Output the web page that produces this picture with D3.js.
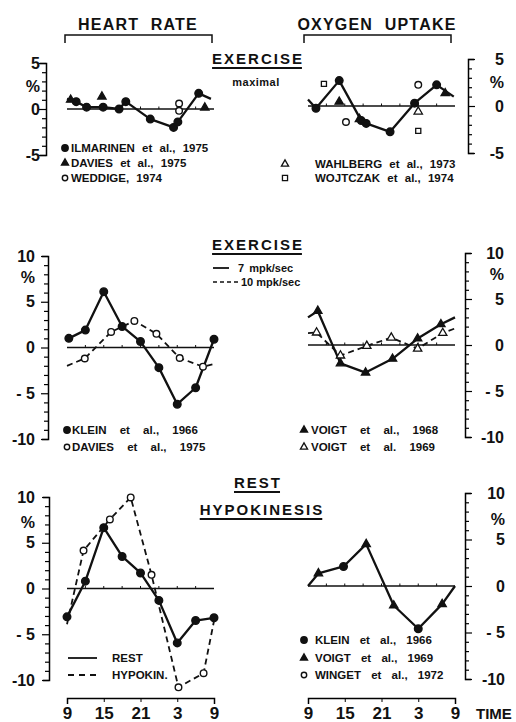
<!DOCTYPE html>
<html>
<head>
<meta charset="utf-8">
<script src="https://cdn.jsdelivr.net/npm/d3@7"></script>
<style>
body { margin: 0; background: #fff; }
text { font-family: "Liberation Sans", Arial, sans-serif; font-weight: bold; fill: #111; }
</style>
</head>
<body>
<div id="chart"></div>
<script>
// clock hours from 9 in the morning to 9 next morning (27 = 3, 33 = 9)
var timeTicks = [9, 15, 21, 27, 33];
var timeLabels = ["9", "15", "21", "3", "9"];

// y tick labels
var smallTicks = [5, 0, -5];
var smallTickLabels = ["5", "0", "-5"];
var bigTicks = [10, 5, 0, -5, -10];
var bigTickLabels = ["10", "5", "0", "- 5", "-10"];

// --- heart rate, maximal exercise (top left)
var hrIlmHours = [10.5, 12.2, 14.9, 17.5, 18.6, 22.6, 26.4, 27.1, 30.5];
var hrIlmValues = [0.8, 0.2, 0.2, 0.0, 0.8, -1.1, -2.0, -1.4, 1.7];
var hrIlmEnds = [[9, 1.1], [32.5, 1.1]];
var hrDavHours = [9.6, 14.7, 31.5];
var hrDavValues = [1.0, 1.35, 0.15];
var hrWedHours = [27.3, 27.3];
var hrWedValues = [0.6, -0.2];

// --- oxygen uptake, maximal exercise (top right)
var o2IlmHours = [10.3, 14.1, 17.7, 18.5, 22.4, 26.4, 30.0];
var o2IlmValues = [-0.25, 2.7, -1.55, -1.85, -2.75, 0.3, 2.25];
var o2IlmEnds = [[9, 0.7], [32.8, 1.0]];
var o2DavHours = [14.1, 17.4, 31.4];
var o2DavValues = [0.45, -1.4, 1.35];
var o2WedHours = [15.2, 27.0];
var o2WedValues = [-1.7, 2.25];
var o2WahHours = [27.0];
var o2WahValues = [-0.6];
var o2WojHours = [11.6, 27.0];
var o2WojValues = [2.35, -2.65];

// --- exercise 7 / 10 mpk/sec (middle left)
var exKleinHours = [9.3, 12, 15, 18, 21, 24, 27, 30, 33];
var exKleinValues = [1.0, 1.9, 6.1, 2.3, 0.65, -2.2, -6.2, -4.4, 0.9];
var exDavHours = [11.9, 16.2, 20.0, 23.6, 27.4, 31.2];
var exDavValues = [-1.2, 1.7, 2.9, 1.5, -1.15, -2.1];
var exDavEnds = [[9, -2.0], [33, -1.8]];

// --- exercise (middle right)
var exV68Hours = [10.6, 14.3, 18.4, 22.8, 26.9, 30.7];
var exV68Values = [3.7, -2.0, -3.0, -1.5, 0.7, 2.25];
var exV68Ends = [[9, 3.0], [33, 3.0]];
var exV69Hours = [10.4, 14.3, 18.6, 22.6, 26.9, 31.0];
var exV69Values = [1.35, -1.15, -0.1, 0.8, -0.4, 1.3];
var exV69Ends = [[9, 1.3], [33, 1.8]];

// --- rest vs hypokinesis (bottom left)
var restHours = [9, 12, 15, 18, 21, 24, 27, 30, 33];
var restValues = [-3.1, 0.8, 6.65, 3.5, 1.7, -1.3, -5.95, -3.5, -3.2];
var hypoHours = [11.7, 16, 19.4, 22.8, 27.2, 31.3];
var hypoValues = [4.15, 7.55, 9.95, 1.5, -10.8, -9.25];
var hypoEnds = [[9, -3.9], [33, -3.55]];

// --- rest (bottom right)
var rKleinHours = [14.8, 27];
var rKleinValues = [2.1, -4.6];
var rVoigtHours = [10.7, 18.5, 23, 30.9];
var rVoigtValues = [1.35, 4.5, -2.1, -1.95];
var rEnds = [[9, 0], [33, 0]];

var svg = d3.select("#chart").append("svg")
  .attr("width", 516)
  .attr("height", 722);

function pairs(hours, values) {
  return hours.map(function (h, i) { return [h, values[i]]; });
}

// draw one marker shape at pixel position
function shape(g, px, py, kind, small) {
  if (kind == "dot" || kind == "ring") {
    g.append("circle")
      .attr("cx", px).attr("cy", py)
      .attr("r", (kind == "dot" ? 3.8 : 3.3) - (small ? 0.6 : 0))
      .attr("fill", kind == "dot" ? "#111" : "#fff")
      .attr("stroke", "#111")
      .attr("stroke-width", 1.4);
  } else {
    var sym = d3.symbol()
      .type(kind == "sq" ? d3.symbolSquare : d3.symbolTriangle)
      .size(kind == "sq" ? 26 : (small ? 22 : 30));
    g.append("path")
      .attr("transform", "translate(" + px + "," + py + ")")
      .attr("d", sym)
      .attr("fill", kind == "tri" ? "#111" : "#fff")
      .attr("stroke", "#111")
      .attr("stroke-width", 1.3);
  }
}

function marks(x, y, hours, values, kind) {
  var g = svg.append("g");
  pairs(hours, values).forEach(function (d) {
    shape(g, x(d[0]), y(d[1]), kind, false);
  });
}

function trace(x, y, pts, dashed) {
  pts = pts.slice().sort(function (a, b) { return a[0] - b[0]; });
  svg.append("path")
    .datum(pts)
    .attr("fill", "none")
    .attr("stroke", "#111")
    .attr("stroke-width", dashed ? 1.8 : 2.3)
    .attr("stroke-dasharray", dashed ? "6,4" : null)
    .attr("stroke-linejoin", "round")
    .attr("d", d3.line()
      .x(function (d) { return x(d[0]); })
      .y(function (d) { return y(d[1]); })
    );
}

function zeroLine(x, y) {
  svg.append("line")
    .attr("x1", x(9)).attr("x2", x(33))
    .attr("y1", y(0)).attr("y2", y(0))
    .attr("stroke", "#111")
    .attr("stroke-width", 1.3);
  // little marks every 3 hours along the zero line
  svg.append("g").selectAll("line")
    .data(d3.range(12, 33, 3))
    .enter().append("line")
    .attr("x1", function (d) { return x(d); })
    .attr("x2", function (d) { return x(d); })
    .attr("y1", y(0)).attr("y2", y(0) - 2.5)
    .attr("stroke", "#111")
    .attr("stroke-width", 1);
}

function yAxis(y, side, ax, lim, ticks, labels, labelEnd, pct) {
  var axis = (side == "left" ? d3.axisLeft(y) : d3.axisRight(y))
    .tickValues(d3.range(-lim, lim + 1))
    .tickSizeInner(4)
    .tickSizeOuter(6)
    .tickFormat(function (d) {
      var i = ticks.indexOf(d);
      return i < 0 ? "" : labels[i];
    });
  var g = svg.append("g")
    .attr("transform", "translate(" + ax + ",0)")
    .call(axis);
  g.attr("font-size", 16).attr("font-family", null);
  g.select(".domain").attr("stroke-width", 1.5);
  g.selectAll(".tick line")
    .attr("stroke-width", 1.2)
    .attr("x2", function (d) {
      var len = d % 5 == 0 ? 7 : 4;
      return side == "left" ? -len : len;
    });
  g.selectAll(".tick text")
    .attr("text-anchor", "end")
    .attr("x", labelEnd - ax);
  svg.append("text")
    .attr("x", labelEnd)
    .attr("y", y(pct))
    .attr("dy", "0.35em")
    .attr("text-anchor", "end")
    .attr("font-size", 16)
    .text("%");
}

function timeAxis(x, yPos) {
  var g = svg.append("g")
    .attr("transform", "translate(0," + yPos + ")")
    .call(d3.axisBottom(x)
      .tickValues(timeTicks)
      .tickSizeInner(4)
      .tickSizeOuter(6)
      .tickPadding(5)
      .tickFormat(function (d, i) { return timeLabels[i]; }));
  g.attr("font-size", 17).attr("font-family", null);
  g.select(".domain").attr("stroke-width", 1.5);
}

function legend(x0, tx, rows, items, ws) {
  var g = svg.append("g");
  items.forEach(function (it, i) {
    if (it[0] == "solid" || it[0] == "dash") {
      g.append("line")
        .attr("x1", x0).attr("x2", x0 + 29)
        .attr("y1", rows[i]).attr("y2", rows[i])
        .attr("stroke", "#111")
        .attr("stroke-width", 1.8)
        .attr("stroke-dasharray", it[0] == "dash" ? "6,5" : null);
    } else {
      shape(g, x0, rows[i], it[0], true);
    }
    g.append("text")
      .attr("x", tx)
      .attr("y", rows[i])
      .attr("dy", "0.36em")
      .attr("font-size", 11.5)
      .attr("word-spacing", ws)
      .text(it[1]);
  });
}

function title(txt, cx, base, size, ls, underline) {
  var t = svg.append("text")
    .attr("x", cx).attr("y", base)
    .attr("text-anchor", "middle")
    .attr("font-size", size)
    .attr("letter-spacing", ls)
    .attr("word-spacing", 6)
    .text(txt);
  if (underline) {
    var b = t.node().getBBox();
    svg.append("line")
      .attr("x1", b.x).attr("x2", b.x + b.width - ls)
      .attr("y1", base + 4).attr("y2", base + 4)
      .attr("stroke", "#111").attr("stroke-width", 2);
  }
}

function bracket(x1, x2, yTop) {
  svg.append("path")
    .attr("d", "M" + x1 + "," + (yTop + 8) + "V" + yTop + "H" + x2 + "V" + (yTop + 8))
    .attr("fill", "none")
    .attr("stroke", "#111")
    .attr("stroke-width", 1.5);
}

// scales
var xL = d3.scaleLinear().domain([9, 33]).range([67, 214]);
var xR = d3.scaleLinear().domain([9, 33]).range([308, 455]);
var yTL = d3.scaleLinear().domain([-5, 5]).range([155, 63]);
var yTR = d3.scaleLinear().domain([-5, 5]).range([153, 59]);
var yML = d3.scaleLinear().domain([-10, 10]).range([439, 256]);
var yMR = d3.scaleLinear().domain([-10, 10]).range([437, 253]);
var yBL = d3.scaleLinear().domain([-10, 10]).range([680, 497]);
var yBR = d3.scaleLinear().domain([-10, 10]).range([679, 493]);

// titles
title("HEART RATE", 138, 30, 16, 1.2, false);
bracket(65, 212, 35);
title("OXYGEN UPTAKE", 377, 30, 16, 1.2, false);
bracket(304, 451, 35);
title("EXERCISE", 258, 64, 15, 2, true);
svg.append("text").attr("x", 256).attr("y", 86).attr("text-anchor", "middle")
  .attr("font-size", 11).attr("letter-spacing", 0.5).text("maximal");

// top left
yAxis(yTL, "left", 46, 5, smallTicks, smallTickLabels, 40, 2.5);
zeroLine(xL, yTL);
trace(xL, yTL, [hrIlmEnds[0]].concat(pairs(hrIlmHours, hrIlmValues), [hrIlmEnds[1]]), false);
marks(xL, yTL, hrIlmHours, hrIlmValues, "dot");
marks(xL, yTL, hrDavHours, hrDavValues, "tri");
marks(xL, yTL, hrWedHours, hrWedValues, "ring");
legend(65, 71, [148, 163, 178], [
  ["dot", "ILMARINEN et al., 1975"],
  ["tri", "DAVIES et al., 1975"],
  ["ring", "WEDDIGE, 1974"]
], 4);

// top right
yAxis(yTR, "right", 468, 5, smallTicks, smallTickLabels, 504, 2.5);
zeroLine(xR, yTR);
trace(xR, yTR, [o2IlmEnds[0]].concat(pairs(o2IlmHours, o2IlmValues), [o2IlmEnds[1]]), false);
marks(xR, yTR, o2IlmHours, o2IlmValues, "dot");
marks(xR, yTR, o2DavHours, o2DavValues, "tri");
marks(xR, yTR, o2WedHours, o2WedValues, "ring");
marks(xR, yTR, o2WahHours, o2WahValues, "otri");
marks(xR, yTR, o2WojHours, o2WojValues, "sq");
legend(285, 315, [164, 178], [
  ["otri", "WAHLBERG et al., 1973"],
  ["sq", "WOJTCZAK et al., 1974"]
], 4);

// middle
title("EXERCISE", 258, 250, 15, 2, true);
svg.append("line").attr("x1", 213).attr("x2", 229).attr("y1", 268).attr("y2", 268)
  .attr("stroke", "#111").attr("stroke-width", 1.8);
svg.append("text").attr("x", 238).attr("y", 272).attr("font-size", 11)
  .attr("word-spacing", 2).text("7 mpk/sec");
svg.append("line").attr("x1", 213).attr("x2", 239).attr("y1", 282).attr("y2", 282)
  .attr("stroke", "#111").attr("stroke-width", 1.5).attr("stroke-dasharray", "4,3");
svg.append("text").attr("x", 241).attr("y", 286).attr("font-size", 11).text("10 mpk/sec");

yAxis(yML, "left", 48, 10, bigTicks, bigTickLabels, 35, 7.7);
zeroLine(xL, yML);
trace(xL, yML, pairs(exKleinHours, exKleinValues), false);
trace(xL, yML, [exDavEnds[0]].concat(pairs(exDavHours, exDavValues), [exDavEnds[1]]), true);
marks(xL, yML, exKleinHours, exKleinValues, "dot");
marks(xL, yML, exDavHours, exDavValues, "ring");
legend(67, 72, [430, 447], [
  ["dot", "KLEIN et al., 1966"],
  ["ring", "DAVIES et al., 1975"]
], 10);

yAxis(yMR, "right", 465, 10, bigTicks, bigTickLabels, 504, 7.7);
zeroLine(xR, yMR);
trace(xR, yMR, [exV68Ends[0]].concat(pairs(exV68Hours, exV68Values), [exV68Ends[1]]), false);
trace(xR, yMR, [exV69Ends[0]].concat(pairs(exV69Hours, exV69Values), [exV69Ends[1]]), true);
marks(xR, yMR, exV68Hours, exV68Values, "tri");
marks(xR, yMR, exV69Hours, exV69Values, "otri");
legend(304, 311, [430, 447], [
  ["tri", "VOIGT et al., 1968"],
  ["otri", "VOIGT et al. 1969"]
], 10);

// bottom
title("REST", 258, 488, 15, 2, true);
title("HYPOKINESIS", 262, 515, 15, 2, true);

yAxis(yBL, "left", 49, 10, bigTicks, bigTickLabels, 35, 7.2);
zeroLine(xL, yBL);
trace(xL, yBL, [hypoEnds[0]].concat(pairs(hypoHours, hypoValues), [hypoEnds[1]]), true);
trace(xL, yBL, pairs(restHours, restValues), false);
marks(xL, yBL, hypoHours, hypoValues, "ring");
marks(xL, yBL, restHours, restValues, "dot");
legend(68, 112, [658, 675], [
  ["solid", "REST"],
  ["dash", "HYPOKIN."]
], 4);
timeAxis(xL, 698);

yAxis(yBR, "right", 465, 10, bigTicks, bigTickLabels, 505, 7.2);
zeroLine(xR, yBR);
trace(xR, yBR, rEnds.concat(pairs(rKleinHours, rKleinValues), pairs(rVoigtHours, rVoigtValues)), false);
marks(xR, yBR, rKleinHours, rKleinValues, "dot");
marks(xR, yBR, rVoigtHours, rVoigtValues, "tri");
legend(304, 315, [640, 658, 675], [
  ["dot", "KLEIN et al., 1966"],
  ["tri", "VOIGT et al., 1969"],
  ["ring", "WINGET et al., 1972"]
], 7);
timeAxis(xR, 698);
svg.append("text").attr("x", 476).attr("y", 719).attr("font-size", 15).text("TIME");
</script>
</body>
</html>
